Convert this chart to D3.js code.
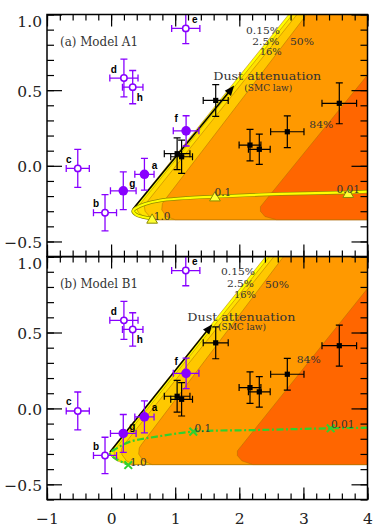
<!DOCTYPE html>
<html><head><meta charset="utf-8">
<script src="https://cdn.jsdelivr.net/npm/d3@7"></script>
<style>html,body{margin:0;padding:0;background:#fff;} svg{display:block;}</style>
</head><body>
<svg id="chart" width="382" height="530"></svg>
<script>
// ---------------- data ----------------
const galLabels = ["a", "b", "c", "d", "e", "f", "g", "h"];
const galX      = [0.52, -0.095, -0.52, 0.20, 1.165, 1.17, 0.19, 0.337];
const galY      = [-0.056, -0.31, -0.017, 0.58, 0.908, 0.231, -0.165, 0.52];
const galXErr   = [0.15, 0.18, 0.18, 0.22, 0.22, 0.20, 0.20, 0.16];
const galYErr   = [0.105, 0.12, 0.125, 0.125, 0.10, 0.10, 0.125, 0.11];
const galFilled = [true, false, false, false, false, true, true, false];

const refX    = [1.03, 1.10, 1.632, 2.167, 2.312, 2.749, 3.56];
const refY    = [0.08, 0.06, 0.432, 0.137, 0.109, 0.225, 0.413];
const refXErr = [0.20, 0.17, 0.195, 0.17, 0.17, 0.26, 0.27];
const refYErr = [0.105, 0.11, 0.105, 0.104, 0.10, 0.105, 0.135];

const contourLevels = ["0.15%", "2.5%", "16%", "50%", "84%"];
// Model A1 contours (outer to inner), polygon vertices in data units
const contoursA = [
  [[2.77,1.0],[4,1.0],[4,-0.356],[0.62,-0.356],[0.45,-0.335],[0.36,-0.31],[0.335,-0.29],[0.345,-0.28]],
  [[2.83,1.0],[4,1.0],[4,-0.356],[0.66,-0.356],[0.50,-0.335],[0.42,-0.305],[0.405,-0.285],[0.42,-0.27]],
  [[2.90,1.0],[4,1.0],[4,-0.356],[0.72,-0.356],[0.60,-0.335],[0.53,-0.30],[0.52,-0.27],[0.54,-0.25]],
  [[3.05,1.0],[4,1.0],[4,-0.356],[1.00,-0.356],[0.86,-0.335],[0.79,-0.29],[0.80,-0.25],[0.83,-0.23]],
  [[4,0.60],[4,-0.356],[2.58,-0.356],[2.40,-0.335],[2.33,-0.30],[2.33,-0.27]]
];
// Model B1 contours
const contoursB = [
  [[2.41,1.0],[4,1.0],[4,-0.37],[0.26,-0.37],[0.09,-0.345],[0.0,-0.315],[-0.025,-0.295],[-0.015,-0.28]],
  [[2.47,1.0],[4,1.0],[4,-0.37],[0.30,-0.37],[0.14,-0.345],[0.06,-0.31],[0.045,-0.29],[0.06,-0.27]],
  [[2.54,1.0],[4,1.0],[4,-0.37],[0.36,-0.37],[0.24,-0.345],[0.17,-0.305],[0.16,-0.27],[0.18,-0.25]],
  [[2.69,1.0],[4,1.0],[4,-0.37],[0.64,-0.37],[0.50,-0.345],[0.43,-0.30],[0.44,-0.26],[0.47,-0.24]],
  [[4,0.79],[4,-0.37],[2.21,-0.37],[2.04,-0.345],[1.97,-0.31],[1.97,-0.28]]
];

// model tracks
const trackAX = [4.0, 3.696, 2.647, 1.621, 1.075, 0.763, 0.529, 0.388, 0.342, 0.388, 0.498, 0.638];
const trackAY = [-0.170, -0.176, -0.186, -0.203, -0.216, -0.229, -0.252, -0.279, -0.299, -0.322, -0.338, -0.348];
const trackBX = [4.0, 3.426, 2.323, 1.282, 0.711, 0.295, 0.087, -0.017, 0.061, 0.190, 0.268];
const trackBY = [-0.127, -0.131, -0.142, -0.153, -0.186, -0.219, -0.263, -0.296, -0.329, -0.357, -0.373];

const ageLabels = ["1.0", "0.1", "0.01"];
const ageAX = [0.64, 1.62, 3.70];
const ageAY = [-0.352, -0.205, -0.182];
const ageBX = [0.268, 1.282, 3.426];
const ageBY = [-0.373, -0.153, -0.131];

// dust attenuation vector (start, end)
const arrowAX = [0.342, 1.92], arrowAY = [-0.286, 0.53];
const arrowBX = [-0.017, 1.58], arrowBY = [-0.287, 0.555];

const xTickValues = [-1, 0, 1, 2, 3, 4];
const yTickValues = [-0.5, 0.0, 0.5, 1.0];
const panelTitles = ["(a) Model A1", "(b) Model B1"];

// ---------------- drawing ----------------
const svg = d3.select("#chart");
const x = d3.scaleLinear().domain([-1, 4]).range([47, 367.5]);
const yA = d3.scaleLinear().domain([-0.6, 1]).range([256.6, 14.5]);
const yB = d3.scaleLinear().domain([-0.6, 1]).range([499.5, 256.6]);

const contourFill = ["#ffff00", "#ffe000", "#ffc800", "#ff9900", "#ff6600"];
const purple = "#8800ff";
const serif = "'DejaVu Serif', serif";

const defs = svg.append("defs");
const labelOffsets = { a: [10, -9], b: [-9, -9], c: [-9, -9], d: [-10, -9], e: [9, -9], f: [-10, -12], g: [9, -7], h: [7, 10] };

function drawPanel(idx, y, contours, trackX, trackY, ageX, ageY, arrX, arrY, opts) {
  const g = svg.append("g");
  const [x0, x1] = x.range();
  const [yb, yt] = y.range();
  const clipId = "clip" + idx;
  defs.append("clipPath").attr("id", clipId).append("rect")
    .attr("x", x0).attr("y", yt).attr("width", x1 - x0).attr("height", yb - yt);
  const plot = g.append("g").attr("clip-path", `url(#${clipId})`);

  // contours
  const poly = d3.line().x(d => x(d[0])).y(d => y(d[1])).curve(d3.curveLinearClosed);
  plot.selectAll("path.ct").data(contours).join("path")
    .attr("class", "ct")
    .attr("d", d => poly(d))
    .attr("fill", (d, i) => contourFill[i])
    .attr("stroke", "#a86a00").attr("stroke-width", 0.6).attr("stroke-opacity", 0.8);

  // dust arrow
  const p0 = [x(arrX[0]), y(arrY[0])], p1 = [x(arrX[1]), y(arrY[1])];
  const dx = p1[0] - p0[0], dy = p1[1] - p0[1], L = Math.hypot(dx, dy);
  const ux = dx / L, uy = dy / L, nx = -uy, ny = ux;
  const hl = 10, hw = 4;
  plot.append("line").attr("x1", p0[0]).attr("y1", p0[1])
    .attr("x2", p1[0] - ux * hl * 0.8).attr("y2", p1[1] - uy * hl * 0.8)
    .attr("stroke", "#000").attr("stroke-width", 1.5);
  plot.append("path")
    .attr("d", `M${p1[0]},${p1[1]}L${p1[0] - ux * hl + nx * hw},${p1[1] - uy * hl + ny * hw}L${p1[0] - ux * hl - nx * hw},${p1[1] - uy * hl - ny * hw}Z`)
    .attr("fill", "#000");

  // track
  const tl = d3.line().x((d, i) => x(trackX[i])).y((d, i) => y(trackY[i])).curve(d3.curveCatmullRom);
  const tdata = trackX.map((v, i) => i);
  if (opts.track === "yellow") {
    plot.append("path").attr("d", tl(tdata)).attr("fill", "none")
      .attr("stroke", "#8f8a00").attr("stroke-width", 3.6);
    plot.append("path").attr("d", tl(tdata)).attr("fill", "none")
      .attr("stroke", "#ffff00").attr("stroke-width", 2.2);
    plot.selectAll("path.tri").data(ageX).join("path").attr("class", "tri")
      .attr("transform", (d, i) => `translate(${x(ageX[i])},${y(ageY[i]) + 1})`)
      .attr("d", d3.symbol(d3.symbolTriangle).size(50))
      .attr("fill", "#ffff33").attr("stroke", "#8a8a00").attr("stroke-width", 1);
  } else {
    plot.append("path").attr("d", tl(tdata)).attr("fill", "none")
      .attr("stroke", "#2fd12f").attr("stroke-width", 2.2)
      .attr("stroke-dasharray", "7,2.5,2,2.5");
    plot.selectAll("path.xx").data(ageX).join("path").attr("class", "xx")
      .attr("transform", (d, i) => `translate(${x(ageX[i])},${y(ageY[i])})`)
      .attr("d", d3.symbol(d3.symbolX).size(40))
      .attr("fill", "none").attr("stroke", "#2fd12f").attr("stroke-width", 2);
  }
  plot.selectAll("text.age").data(ageLabels).join("text").attr("class", "age")
    .attr("x", (d, i) => x(ageX[i]) + opts.ageDx[i])
    .attr("y", (d, i) => y(ageY[i]) - opts.ageDy[i])
    .attr("text-anchor", "middle").attr("dominant-baseline", "central")
    .attr("font-family", serif).attr("font-size", 10.5).attr("fill", "#333")
    .text(d => d);

  // reference (black) points
  const rg = plot.append("g").attr("stroke", "#000").attr("stroke-width", 1.2);
  refX.forEach((v, i) => {
    const cx = x(refX[i]), cy = y(refY[i]);
    const xl = x(refX[i] - refXErr[i]), xr = x(refX[i] + refXErr[i]);
    const yu = y(refY[i] + refYErr[i]), yd = y(refY[i] - refYErr[i]);
    rg.append("path").attr("fill", "none")
      .attr("d", `M${xl},${cy}H${xr}M${cx},${yu}V${yd}M${xl},${cy - 3.5}V${cy + 3.5}M${xr},${cy - 3.5}V${cy + 3.5}M${cx - 3.5},${yu}H${cx + 3.5}M${cx - 3.5},${yd}H${cx + 3.5}`);
    rg.append("rect").attr("x", cx - 2.6).attr("y", cy - 2.6).attr("width", 5.2).attr("height", 5.2)
      .attr("fill", "#000").attr("stroke", "none");
  });

  // galaxy (purple) points
  const gg = plot.append("g");
  galLabels.forEach((lab, i) => {
    const cx = x(galX[i]), cy = y(galY[i]);
    const xl = x(galX[i] - galXErr[i]), xr = x(galX[i] + galXErr[i]);
    const yu = y(galY[i] + galYErr[i]), yd = y(galY[i] - galYErr[i]);
    gg.append("path").attr("fill", "none").attr("stroke", purple).attr("stroke-width", 1.3)
      .attr("d", `M${xl},${cy}H${xr}M${cx},${yu}V${yd}M${xl},${cy - 3.5}V${cy + 3.5}M${xr},${cy - 3.5}V${cy + 3.5}M${cx - 3.5},${yu}H${cx + 3.5}M${cx - 3.5},${yd}H${cx + 3.5}`);
    if (galFilled[i]) {
      gg.append("circle").attr("cx", cx).attr("cy", cy).attr("r", 4.8).attr("fill", purple);
    } else {
      gg.append("circle").attr("cx", cx).attr("cy", cy).attr("r", 3.2)
        .attr("fill", "#fff").attr("stroke", purple).attr("stroke-width", 1.5);
    }
    const off = labelOffsets[lab];
    gg.append("text").attr("x", cx + off[0]).attr("y", cy + off[1])
      .attr("text-anchor", "middle").attr("dominant-baseline", "central")
      .attr("font-family", "'Liberation Sans', Arial, sans-serif").attr("font-weight", "bold")
      .attr("font-size", 10).attr("fill", "#000").text(lab);
  });

  // annotations
  const ann = (t, dxv, dyv, anchor, size, len) => {
    const tx = g.append("text").attr("x", x(dxv)).attr("y", y(dyv))
      .attr("text-anchor", anchor).attr("dominant-baseline", "central")
      .attr("font-family", serif).attr("font-size", size).attr("fill", "#333").text(t);
    if (len) tx.attr("textLength", len).attr("lengthAdjust", "spacingAndGlyphs");
  };
  const a = opts.ann;
  ann(panelTitles[idx], -0.797, 0.82, "start", 12, 78);
  ann(contourLevels[0], a.p015[0], a.p015[1], "end", 9.5, 34);
  ann(contourLevels[1], a.p25[0], a.p25[1], "end", 9.5, 27);
  ann(contourLevels[2], a.p16[0], a.p16[1], "end", 9.5, 22);
  ann(contourLevels[3], a.p50[0], a.p50[1], "start", 9.5, 24);
  ann(contourLevels[4], a.p84[0], a.p84[1], "start", 9.5, 24);
  ann("Dust attenuation", a.dust[0], a.dust[1], "start", 11.5, 108);
  ann("(SMC law)", a.smc[0], a.smc[1], "start", 8.5, 48);

  // axes
  const yMinor = d3.range(-0.6, 1.0001, 0.1).map(v => +v.toFixed(2));
  const xMinor = d3.range(-1, 4.0001, 0.2).map(v => +v.toFixed(2));
  const clean = sel => { sel.select(".domain").remove(); sel.selectAll("line").attr("stroke", "#000").attr("stroke-width", 1.2); };
  g.append("g").attr("transform", `translate(${x0},0)`)
    .call(d3.axisLeft(y).tickValues(yMinor).tickSize(-7).tickFormat("")).call(clean);
  const left = g.append("g").attr("transform", `translate(${x0},0)`)
    .call(d3.axisLeft(y).tickValues(yTickValues).tickSize(-15).tickPadding(5).tickFormat(d3.format(".1f"))).call(clean);
  left.selectAll("text").attr("font-family", serif).attr("font-size", 15.5).attr("fill", "#222")
    .attr("dy", d => d === 1 ? "0.75em" : "0.38em");
  g.append("g").attr("transform", `translate(${x1},0)`)
    .call(d3.axisRight(y).tickValues(yMinor).tickSize(-7).tickFormat("")).call(clean);
  g.append("g").attr("transform", `translate(${x1},0)`)
    .call(d3.axisRight(y).tickValues(yTickValues).tickSize(-16).tickFormat("")).call(clean);
  g.append("g").attr("transform", `translate(0,${yt})`)
    .call(d3.axisTop(x).tickValues(xMinor).tickSize(-6).tickFormat("")).call(clean);
  g.append("g").attr("transform", `translate(0,${yt})`)
    .call(d3.axisTop(x).tickValues(xTickValues).tickSize(-12).tickFormat("")).call(clean);
  g.append("g").attr("transform", `translate(0,${yb})`)
    .call(d3.axisBottom(x).tickValues(xMinor).tickSize(-6).tickFormat("")).call(clean);
  const bottom = g.append("g").attr("transform", `translate(0,${yb})`)
    .call(d3.axisBottom(x).tickValues(xTickValues).tickSize(-12).tickPadding(13)
      .tickFormat(opts.xLabels ? d3.format("d") : "")).call(clean);
  bottom.selectAll("text").attr("font-family", serif).attr("font-size", 15.5).attr("fill", "#222");

  g.append("rect").attr("x", x0).attr("y", yt).attr("width", x1 - x0).attr("height", yb - yt)
    .attr("fill", "none").attr("stroke", "#000").attr("stroke-width", 1.5);
}

drawPanel(0, yA, contoursA, trackAX, trackAY, ageAX, ageAY, arrowAX, arrowAY, {
  track: "yellow", xLabels: false,
  ageDx: [10, 8, 0], ageDy: [3.5, 4.5, 4],
  ann: { p015: [2.635, 0.893], p25: [2.624, 0.82], p16: [2.661, 0.754], p50: [2.791, 0.82], p84: [3.092, 0.27],
         dust: [1.594, 0.594], smc: [2.078, 0.516] }
});
drawPanel(1, yB, contoursB, trackBX, trackBY, ageBX, ageBY, arrowBX, arrowBY, {
  track: "green", xLabels: true,
  ageDx: [10, 9.5, 12], ageDy: [3, 3.4, 4],
  ann: { p015: [2.245, 0.901], p25: [2.229, 0.825], p16: [2.261, 0.752], p50: [2.401, 0.818], p84: [2.895, 0.319],
         dust: [1.189, 0.605], smc: [1.668, 0.535] }
});
</script>
</body></html>
